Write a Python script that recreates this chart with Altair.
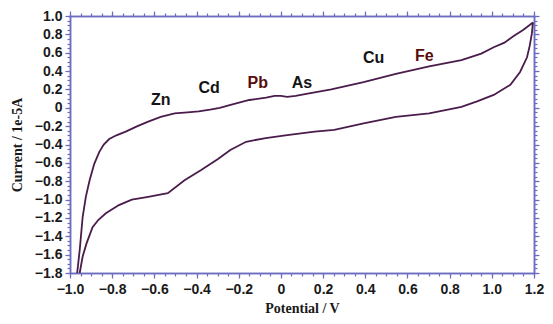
import altair as alt
import pandas as pd

# Forward (anodic) scan: upper branch
fwd_x = [-0.966, -0.954, -0.94, -0.925, -0.907, -0.885, -0.861, -0.84, -0.814, -0.78, -0.736, -0.68,
         -0.629, -0.57, -0.504, -0.443, -0.39, -0.336, -0.29, -0.243, -0.15, -0.07, -0.03, 0.0,
         0.03, 0.07, 0.114, 0.239, 0.392, 0.545, 0.703, 0.856, 0.95, 1.009, 1.06, 1.102, 1.15, 1.195]
fwd_y = [-1.80, -1.55, -1.19, -0.97, -0.79, -0.61, -0.48, -0.40, -0.34, -0.30, -0.26, -0.20,
         -0.15, -0.10, -0.06, -0.05, -0.04, -0.02, 0.00, 0.03, 0.085, 0.11, 0.13, 0.13,
         0.12, 0.13, 0.15, 0.20, 0.28, 0.37, 0.45, 0.52, 0.59, 0.66, 0.71, 0.78, 0.85, 0.93]

# Reverse (cathodic) scan: lower branch
rev_x = [1.195, 1.19, 1.18, 1.167, 1.134, 1.088, 1.009, 0.93, 0.856, 0.703, 0.545, 0.392, 0.253,
         0.16, 0.021, -0.072, -0.165, -0.24, -0.30, -0.38, -0.457, -0.536, -0.58, -0.629, -0.707,
         -0.768, -0.83, -0.865, -0.893, -0.922, -0.94, -0.954]
rev_y = [0.93, 0.81, 0.68, 0.55, 0.39, 0.25, 0.14, 0.07, 0.01, -0.06, -0.10, -0.17, -0.24,
         -0.26, -0.30, -0.33, -0.37, -0.46, -0.56, -0.68, -0.79, -0.93, -0.95, -0.97, -1.00,
         -1.06, -1.15, -1.22, -1.30, -1.48, -1.62, -1.80]

# Element labels
el_names = ["Zn", "Cd", "Pb", "As", "Cu", "Fe"]
el_x = [-0.57, -0.34, -0.11, 0.10, 0.44, 0.68]
el_y = [0.08, 0.22, 0.27, 0.27, 0.54, 0.56]
el_col = ["#141414", "#141414", "#5a0c0c", "#141414", "#141414", "#5a0c0c"]

rows = []
for i, (a, b) in enumerate(zip(fwd_x, fwd_y)):
    rows.append({"x": a, "y": b, "seg": "fwd", "o": i})
for i, (a, b) in enumerate(zip(rev_x, rev_y)):
    rows.append({"x": a, "y": b, "seg": "rev", "o": i})
df = pd.DataFrame(rows)
lab = pd.DataFrame({"name": el_names, "x": el_x, "y": el_y, "c": el_col})

AX = "#6c6cc0"
xdom = [-1.0, 1.2]
ydom = [-1.8, 1.0]
xmaj = [round(-1.0 + 0.2 * i, 1) for i in range(12)]
ymaj = [round(-1.8 + 0.2 * i, 1) for i in range(15)]
xmin = [round(-1.0 + 0.05 * i, 2) for i in range(45)]
ymin = [round(-1.8 + 0.05 * i, 2) for i in range(57)]
lblexpr = "datum.value == 0 ? '0' : format(datum.value, '.1f')"

xs = alt.Scale(domain=xdom, nice=False, zero=False)
ys = alt.Scale(domain=ydom, nice=False, zero=False)

def ax(orient, values, size, title, **kw):
    d = dict(orient=orient, values=values, tickSize=size, grid=False, title=title,
             domainColor=AX, tickColor=AX, domainWidth=1.5, tickWidth=1.2)
    d.update(kw)
    return alt.Axis(**d)

main = alt.Chart(df).mark_line(color="#4a1c4c", strokeWidth=1.8).encode(
    x=alt.X("x:Q", scale=xs, axis=ax("bottom", xmaj, 5, "Potential / V",
             labelExpr=lblexpr, labelFont="Liberation Sans", labelFontSize=14,
             labelFontWeight="bold", labelColor="#1a1a1a", labelPadding=4, labelFlush=False,
             titleFont="Liberation Serif", titleFontSize=14, titleFontWeight="bold",
             titleColor="#1a1a1a", titlePadding=5)),
    y=alt.Y("y:Q", scale=ys, axis=ax("left", ymaj, 5, "Current / 1e-5A",
             labelExpr=lblexpr, labelFont="Liberation Sans", labelFontSize=14,
             labelFontWeight="bold", labelColor="#1a1a1a", labelPadding=3, labelFlush=False,
             titleFont="Liberation Serif", titleFontSize=14, titleFontWeight="bold",
             titleColor="#1a1a1a", titlePadding=10)),
    detail="seg:N",
    order="o:Q",
)

def ghost(xo, yo, xv, yv, size):
    hide = dict(labelOpacity=0, labelFontSize=1, labelOverlap=False, titleOpacity=0)
    return alt.Chart(df).mark_line(strokeOpacity=0).encode(
        x=alt.X("x:Q", scale=xs, axis=ax(xo, xv, size, " ", **hide)),
        y=alt.Y("y:Q", scale=ys, axis=ax(yo, yv, size, " ", **hide)),
        detail="seg:N",
        order="o:Q",
    )

minor_bl = ghost("bottom", "left", xmin, ymin, 3)
major_tr = ghost("top", "right", xmaj, ymaj, 5)
minor_tr = ghost("top", "right", xmin, ymin, 3)

labels = alt.Chart(lab).mark_text(font="Liberation Sans", fontSize=16, fontWeight="bold",
                                  align="center", baseline="middle").encode(
    x=alt.X("x:Q", scale=xs, axis=None),
    y=alt.Y("y:Q", scale=ys, axis=None),
    text="name:N",
    color=alt.Color("c:N", scale=None),
)

chart = alt.layer(main, minor_bl, major_tr, minor_tr, labels).resolve_scale(
    x="shared", y="shared"
).resolve_axis(
    x="independent", y="independent"
).properties(
    width=464, height=257,
    autosize=alt.AutoSizeParams(type="none"),
    padding={"left": 62, "top": 8, "right": 11, "bottom": 43},
).configure_view(stroke=None).configure(background="white")

chart.save("out.html", embed_options={"renderer": "svg", "actions": False})
